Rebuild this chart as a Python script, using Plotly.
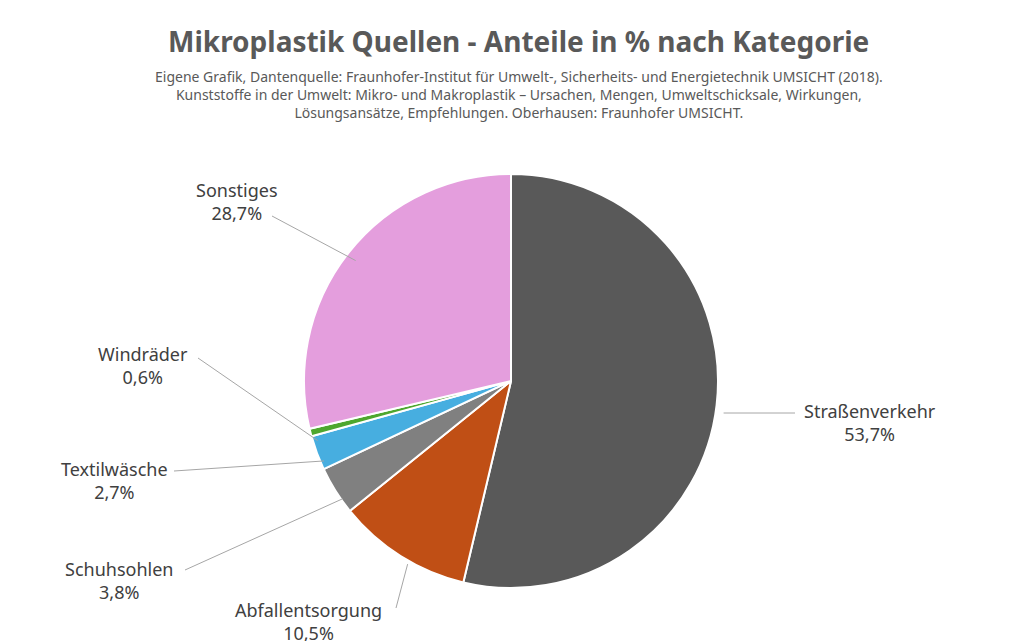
import math
import plotly.graph_objects as go

labels = ["Straßenverkehr", "Abfallentsorgung", "Schuhsohlen", "Textilwäsche", "Windräder", "Sonstiges"]
values = [53.7, 10.5, 3.8, 2.7, 0.6, 28.7]
colors = ["#595959", "#C04F15", "#808080", "#47AEE0", "#4EA72E", "#E49EDD"]

W, H = 1021, 641
CX, CY, R = 510, 381, 207
DX, DY = -7, -8  # rendering offset correction for the pie domain
# label text centres and leader line ends (pixels)
label_pos = [(862, 414), (300, 613), (111, 572), (106, 472), (135, 357), (229, 194)]
line_end = [(787, 405), (388, 600), (177, 562), (166, 463), (190, 350), (264, 208)]

fig = go.Figure(go.Pie(
    labels=labels, values=values, sort=False, direction="clockwise", rotation=0,
    marker=dict(colors=colors, line=dict(color="white", width=2)),
    textinfo="none", hoverinfo="label+percent", showlegend=False,
    domain=dict(x=[(CX + DX - R) / W, (CX + DX + R) / W],
                y=[(H - CY - DY - R) / H, (H - CY - DY + R) / H]),
))

total = sum(values)
cum = 0
shapes, annots = [], []
for lab, v, (lx, ly), (ex, ey) in zip(labels, values, label_pos, line_end):
    mid = (cum + v / 2) / total * 2 * math.pi
    cum += v
    sx = CX + R * math.sin(mid)
    sy = CY - R * math.cos(mid)
    shapes.append(dict(type="line", xref="paper", yref="paper",
                       x0=sx / W, y0=1 - sy / H, x1=ex / W, y1=1 - ey / H,
                       line=dict(color="#A6A6A6", width=1)))
    annots.append(dict(xref="paper", yref="paper", x=lx / W, y=1 - ly / H,
                       xanchor="center", yanchor="middle",
                       text=f"{lab}<br>{v:.1f}%".replace(".", ","), showarrow=False,
                       font=dict(size=18, color="#404040"), align="center"))

annots.append(dict(xref="paper", yref="paper", x=0.5, y=1 - 33 / H, showarrow=False,
                   xanchor="center", yanchor="middle",
                   text="<b>Mikroplastik Quellen - Anteile in % nach Kategorie</b>",
                   font=dict(size=28, color="#595959")))
annots.append(dict(xref="paper", yref="paper", x=0.5, y=1 - 86 / H, showarrow=False,
                   xanchor="center", yanchor="middle",
                   text="Eigene Grafik, Dantenquelle: Fraunhofer-Institut für Umwelt-, Sicherheits- und Energietechnik UMSICHT (2018).<br>"
                        "Kunststoffe in der Umwelt: Mikro- und Makroplastik – Ursachen, Mengen, Umweltschicksale, Wirkungen,<br>"
                        "Lösungsansätze, Empfehlungen. Oberhausen: Fraunhofer UMSICHT.",
                   font=dict(size=14, color="#595959"), align="center"))

fig.update_layout(width=W, height=H, margin=dict(l=0, r=0, t=0, b=0),
                  paper_bgcolor="white", font=dict(family="Noto Sans"),
                  shapes=shapes, annotations=annots)
fig.write_html("out.html")
